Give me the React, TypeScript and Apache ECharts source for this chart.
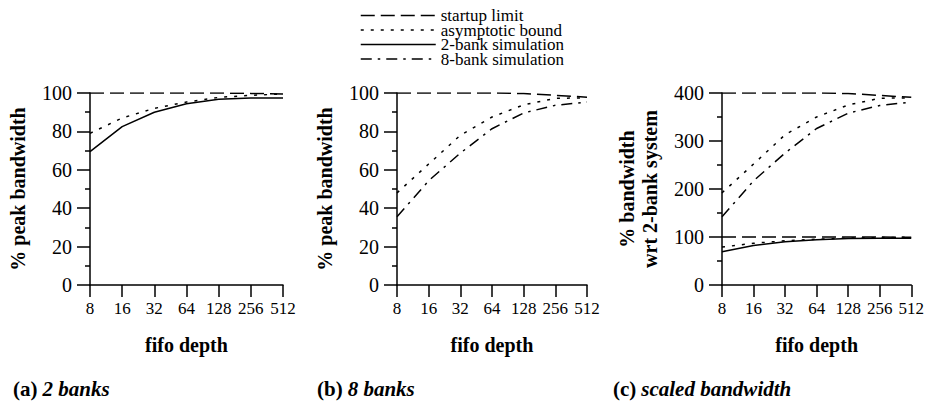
import React, { useEffect, useRef } from "react";
import * as echarts from "echarts";

const fifoDepths = ["8", "16", "32", "64", "128", "256", "512"];

// 2-bank system (% of peak bandwidth)
const startup2 = [100, 100, 100, 100, 100, 99.8, 99.5];
const asym2 = [79, 87, 92, 95.3, 97.7, 98.8, 99.5];
const sim2 = [69.5, 82.5, 90, 94.4, 96.8, 97.4, 97.4];

// 8-bank system (% of peak bandwidth)
const startup8 = [100, 100, 100, 100, 99.7, 98.8, 97.8];
const asym8 = [48, 63, 78, 87.5, 93.8, 97.2, 97.5];
const sim8 = [35.5, 54.3, 68.7, 81.4, 89.6, 93.6, 95.3];

// 8-bank system scaled wrt 2-bank system (%)
const startup8c = [400, 400, 400, 400, 399, 395, 391];
const asym8c = [192, 252, 313, 350, 375, 389, 390];
const sim8c = [142, 217, 275, 326, 358, 374, 381];

const legendNames = ["startup limit", "asymptotic bound", "2-bank simulation", "8-bank simulation"];
const captions = [
  { tag: "(a)", text: "2 banks" },
  { tag: "(b)", text: "8 banks" },
  { tag: "(c)", text: "scaled bandwidth" },
];
const yNames = ["% peak bandwidth", "% peak bandwidth", "% bandwidth\nwrt 2-bank system"];

const FONT = "Liberation Serif";
const DASH = [14, 6];
const DOT = [3, 7];
const DASHDOT = [11, 6, 2.5, 6];

export default function App() {
  const ref = useRef<HTMLDivElement>(null);
  useEffect(() => {
    if (!ref.current) return;
    const chart = echarts.init(ref.current, null, { renderer: "svg" });

    const grids = [
      { left: 90, top: 93, width: 193, height: 192 },
      { left: 397, top: 93, width: 190, height: 192 },
      { left: 722, top: 93, width: 191, height: 192 },
    ];
    const axisLineStyle = { color: "#000", width: 1.5 };

    const xAxis = grids.map((_, i) => ({
      type: "category",
      gridIndex: i,
      data: fifoDepths,
      boundaryGap: false,
      name: "fifo depth",
      nameLocation: "middle",
      nameGap: 50,
      nameTextStyle: { fontFamily: FONT, fontSize: 20, fontWeight: "bold", color: "#000" },
      axisLine: { lineStyle: axisLineStyle },
      axisTick: { length: 12, lineStyle: axisLineStyle, alignWithLabel: true },
      axisLabel: {
        fontFamily: FONT,
        fontSize: 17,
        color: "#000",
        margin: 15,
        interval: 0,
      },
      splitLine: { show: false },
    }));

    const yAxis = grids.map((_, i) => ({
      type: "value",
      gridIndex: i,
      min: 0,
      max: i === 2 ? 400 : 100,
      interval: i === 2 ? 100 : 20,
      name: yNames[i],
      nameLocation: "middle",
      nameRotate: 90,
      nameGap: i === 2 ? 61 : 61,
      nameTextStyle: {
        fontFamily: FONT,
        fontSize: 20,
        fontWeight: "bold",
        color: "#000",
        lineHeight: 23,
      },
      axisLine: { show: true, lineStyle: axisLineStyle },
      axisTick: { show: true, length: 13, lineStyle: axisLineStyle },
      minorTick: { show: true, splitNumber: 2, length: 5, lineStyle: axisLineStyle },
      axisLabel: { fontFamily: FONT, fontSize: 20, color: "#000", margin: 18 },
      splitLine: { show: false },
      minorSplitLine: { show: false },
    }));

    const mk = (name: string, data: number[], dash: number[] | "solid", g: number) => ({
      type: "line",
      name,
      xAxisIndex: g,
      yAxisIndex: g,
      data,
      symbol: "none",
      silent: true,
      lineStyle: { color: "#000", width: 1.5, type: dash },
      itemStyle: { color: "#000" },
    });

    const series = [
      mk(legendNames[0], startup2, DASH, 0),
      mk(legendNames[1], asym2, DOT, 0),
      mk(legendNames[2], sim2, "solid", 0),
      mk(legendNames[3], sim8, DASHDOT, 1),
      mk(legendNames[0], startup8, DASH, 1),
      mk(legendNames[1], asym8, DOT, 1),
      mk(legendNames[0], startup8c, DASH, 2),
      mk(legendNames[1], asym8c, DOT, 2),
      mk(legendNames[3], sim8c, DASHDOT, 2),
      mk(legendNames[0], startup2, DASH, 2),
      mk(legendNames[1], asym2, DOT, 2),
      mk(legendNames[2], sim2, "solid", 2),
    ];

    const lineTypes = [DASH, DOT, "solid", DASHDOT];

    const title = captions.map((c, i) => ({
      left: [8, 312, 608][i],
      top: 373,
      text: `{a|${c.tag}} {b|${c.text}}`,
      textStyle: {
        rich: {
          a: { fontFamily: FONT, fontSize: 21, fontWeight: "bold", color: "#000" },
          b: { fontFamily: FONT, fontSize: 21, fontWeight: "bold", fontStyle: "italic", color: "#000" },
        },
      },
    }));

    chart.setOption({
      animation: false,
      backgroundColor: "#fff",
      title,
      legend: {
        orient: "vertical",
        left: 355,
        top: 2,
        itemWidth: 75,
        itemHeight: 14,
        itemGap: -2.5,
        itemTextGap: 14,
        selectedMode: false,
        data: legendNames.map((n, i) => ({
          name: n,
          itemStyle: { color: "rgba(0,0,0,0)", borderColor: "rgba(0,0,0,0)", borderWidth: 0 },
          lineStyle: { color: "#000", width: 1.5, type: lineTypes[i] },
        })),
        textStyle: { fontFamily: FONT, fontSize: 17, color: "#000" },
      },
      grid: grids,
      xAxis,
      yAxis,
      series,
    });
    return () => chart.dispose();
  }, []);

  return (
    <div
      ref={ref}
      style={{ position: "fixed", left: 0, top: 0, width: 927, height: 403, background: "#fff" }}
    />
  );
}
